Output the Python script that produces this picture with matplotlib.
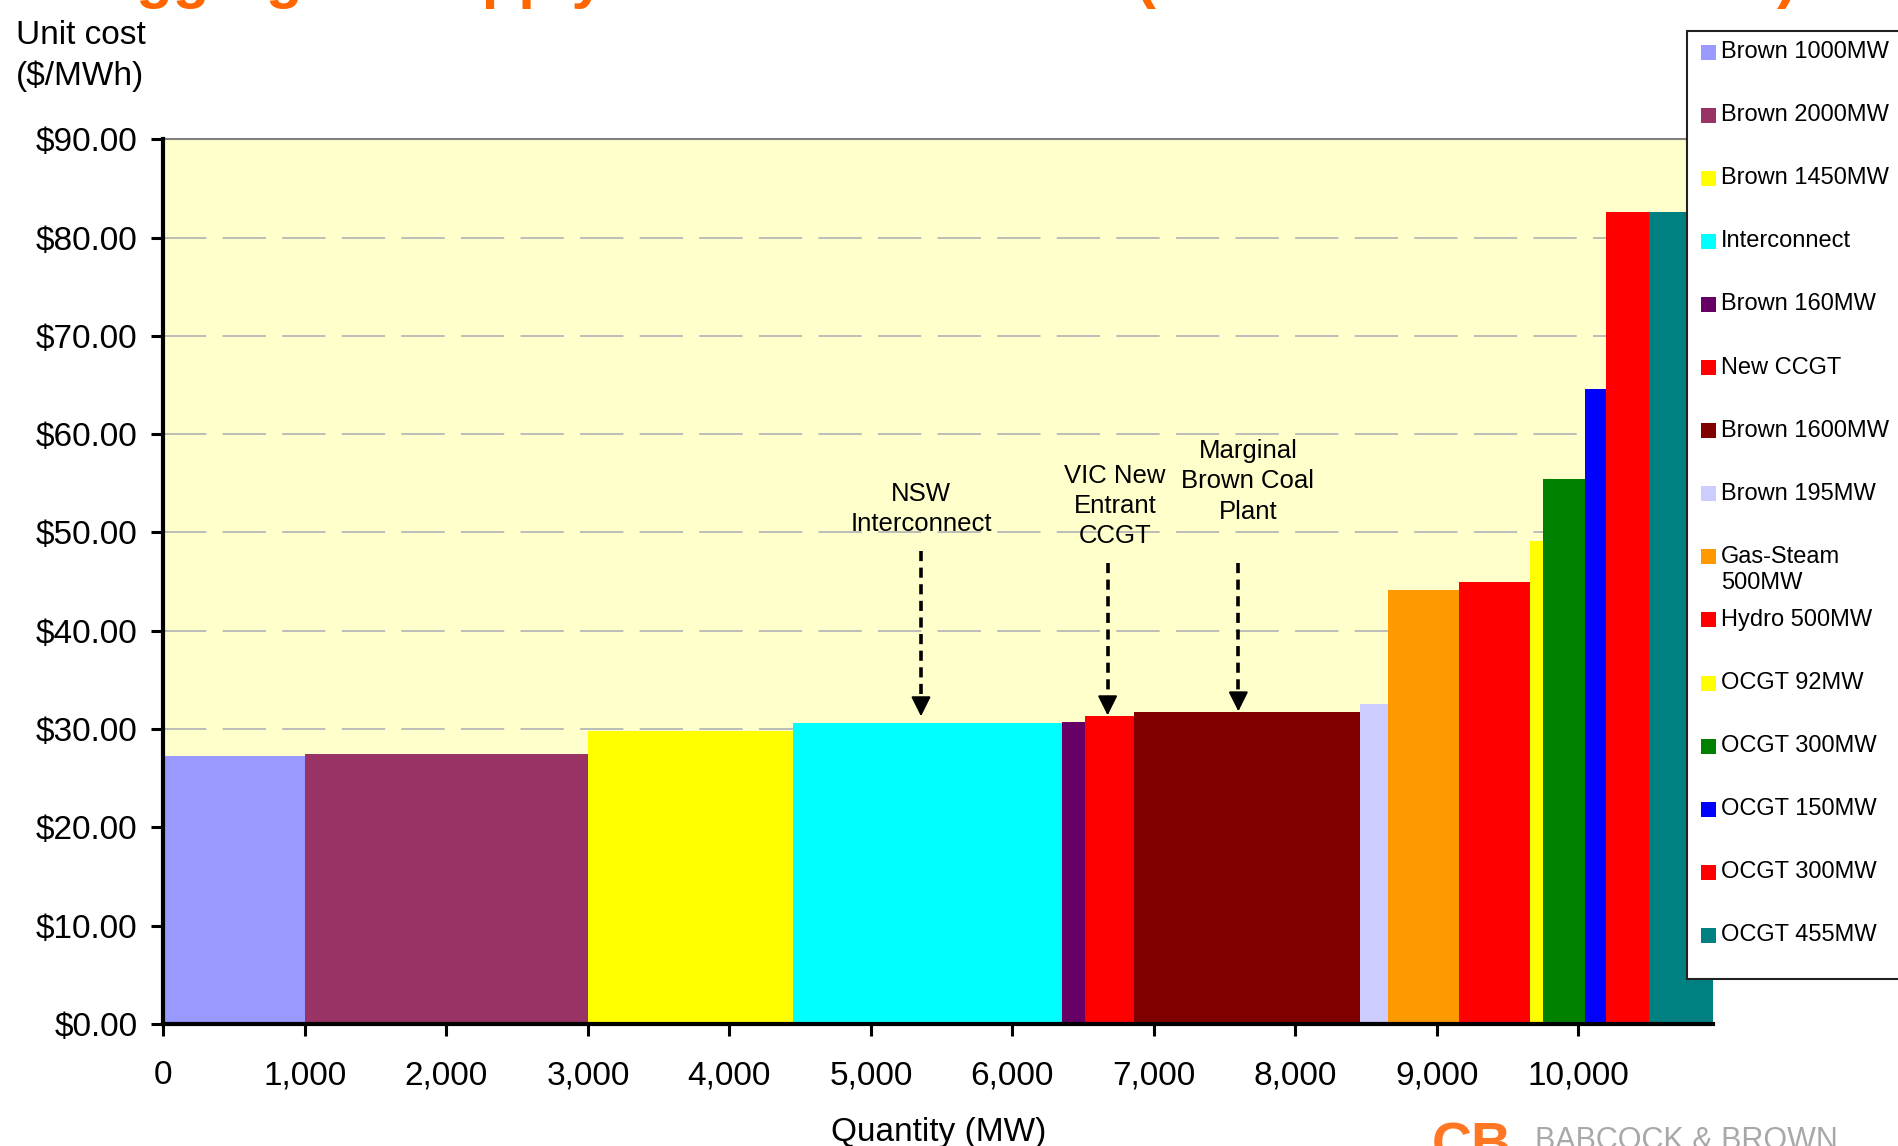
import numpy as np
import matplotlib
matplotlib.use("Agg")
import matplotlib.pyplot as plt
from matplotlib.patches import Rectangle
from matplotlib.ticker import FuncFormatter, MultipleLocator

plt.rcParams['font.family'] = ['Liberation Sans', 'DejaVu Sans']

# supply stack: plant, capacity (MW), unit cost ($/MWh), colour
plants = ['Brown 1000MW', 'Brown 2000MW', 'Brown 1450MW', 'Interconnect', 'Brown 160MW',
          'New CCGT', 'Brown 1600MW', 'Brown 195MW', 'Gas-Steam\n500MW', 'Hydro 500MW',
          'OCGT 92MW', 'OCGT 300MW', 'OCGT 150MW', 'OCGT 300MW', 'OCGT 455MW']
capacity = [1000, 2000, 1450, 1900, 160, 350, 1600, 195, 500, 500, 92, 300, 150, 300, 455]
unit_cost = [27.3, 27.45, 29.8, 30.6, 30.7, 31.3, 31.75, 32.5, 44.1, 45.0, 49.1, 55.4, 64.6, 82.6, 82.6]
colours = ['#9999FF', '#993366', '#FFFF00', '#00FFFF', '#660066', '#FF0000', '#800000', '#CCCCFF',
           '#FF9900', '#FF0000', '#FFFF00', '#008000', '#0000FF', '#FF0000', '#008080']

# callouts: text, text position (MW, $), arrow x, arrow top, arrow tip
notes = ['NSW\nInterconnect', 'VIC New\nEntrant\nCCGT', 'Marginal\nBrown Coal\nPlant']
note_x = [5356, 6726, 7665]
note_y = [52.4, 52.7, 55.2]
arrow_x = [5354, 6673, 7597]
arrow_top = [48.1, 46.9, 46.9]
arrow_tip = [31.3, 31.4, 31.8]

W, H = 1898, 1146
fig = plt.figure(figsize=(W / 100, H / 100), dpi=100)


def fx(px):
    return px / W


def fy(py):
    return 1 - py / H


ax = fig.add_axes([fx(163.4), fy(1024), fx(1713.1) - fx(163.4), fy(139.2) - fy(1024)])
ax.set_facecolor('#FFFFCC')

left = np.concatenate([[0], np.cumsum(capacity)[:-1]])
ax.bar(left, unit_cost, width=capacity, align='edge', color=colours, linewidth=0, zorder=2)

ax.set_xlim(0, sum(capacity))
ax.set_ylim(0, 90)
ax.yaxis.set_major_locator(MultipleLocator(10))
ax.set_xticks(np.arange(0, 10001, 1000))
ax.yaxis.set_major_formatter(FuncFormatter(lambda v, p: '${:.2f}'.format(v)))
ax.xaxis.set_major_formatter(FuncFormatter(lambda v, p: '{:,.0f}'.format(v)))

ax.yaxis.grid(True, color='#b8b8b8', lw=1.3, linestyle=(0, (24, 9)), zorder=1)
ax.set_axisbelow(True)

for s in ['left', 'bottom']:
    ax.spines[s].set_linewidth(3.0)
    ax.spines[s].set_color('black')
    ax.spines[s].set_zorder(5)
ax.spines['top'].set_color('#808080')
ax.spines['top'].set_linewidth(1.5)
ax.spines['right'].set_visible(False)

ax.tick_params(axis='both', direction='out', length=8.5, width=2.2, labelsize=24, colors='black')
ax.tick_params(axis='y', pad=10)
ax.tick_params(axis='x', pad=17.5)
ax.set_xlabel('Quantity (MW)', fontsize=24, labelpad=19)

fig.text(fx(16), fy(20), 'Unit cost\n($/MWh)', fontsize=24, ha='left', va='top', linespacing=1.38)

# callout labels, dashed shafts and solid heads
for t, x, y in zip(notes, note_x, note_y):
    ax.text(x, y, t, fontsize=18.5, ha='center', va='center', linespacing=1.33, zorder=6)
for x, y0, y1 in zip(arrow_x, arrow_top, arrow_tip):
    ax.plot([x, x], [y0, y1 + 1.2], color='black', lw=2.6, linestyle=(0, (2.8, 1.8)),
            solid_capstyle='butt', zorder=6)
    ax.annotate('', xy=(x, y1), xytext=(x, y1 + 1.8),
                arrowprops=dict(arrowstyle='-|>,head_width=0.3,head_length=0.6', mutation_scale=20,
                                color='black', lw=1.5, shrinkA=0, shrinkB=0),
                zorder=6)

# legend panel on the right
fig.add_artist(Rectangle((fx(1687), fy(979)), fx(1920) - fx(1687), fy(31) - fy(979),
                         transform=fig.transFigure, facecolor='white', edgecolor='#222222',
                         lw=1.5, zorder=10))
for i, (lab, col) in enumerate(zip(plants, colours)):
    yc = 52.0 + i * 63.1
    fig.add_artist(Rectangle((fx(1701), fy(yc + 7.5)), fx(15), 15 / H,
                             transform=fig.transFigure, facecolor=col, edgecolor='none', zorder=11))
    for j, ln in enumerate(lab.split('\n')):
        fig.text(fx(1721), fy(yc + j * 26), ln, fontsize=17, ha='left', va='center', zorder=12)

# page title, cut by the top edge
fig.text(fx(93), fy(-3), 'Aggregate Supply Curve for Victoria', fontsize=43, fontweight='bold',
         color='#FF6600', ha='left', va='baseline')
fig.text(fx(1136), fy(-3), '(2010 Short Run Costs)', fontsize=43, fontweight='bold',
         color='#FF6600', ha='left', va='baseline')

# company mark, cut by the bottom edge
fig.text(fx(1432), fy(1122), 'CB', fontsize=40, fontweight='bold', color='#FF7722',
         ha='left', va='top')
fig.text(fx(1535), fy(1126), 'BABCOCK & BROWN', fontsize=22, color='#a8a8a8',
         ha='left', va='top')

fig.savefig('out.png', dpi=100)
